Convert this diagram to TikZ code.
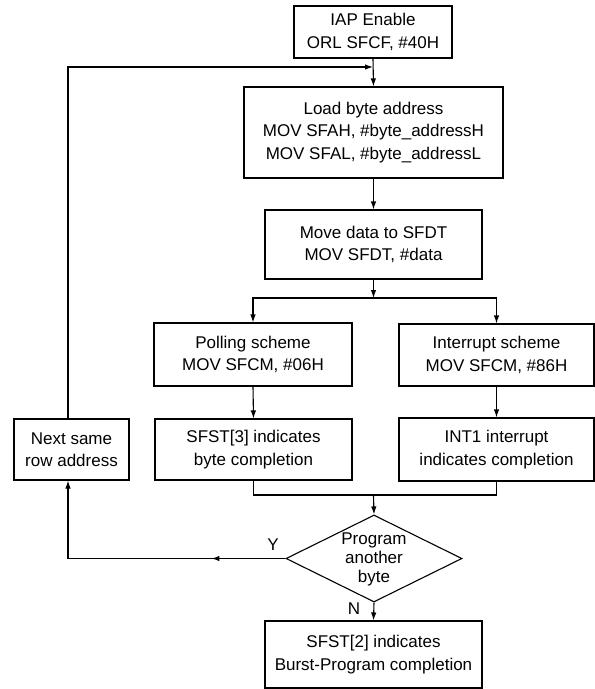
\documentclass[tikz,border=0pt]{standalone}
\usepackage{fontspec}
\setmainfont{Liberation Sans}
\usetikzlibrary{arrows.meta,shapes.geometric,decorations.markings}
\begin{document}
\begin{tikzpicture}[x=1pt,y=-1pt,
  box/.style={draw, line width=1.1pt, inner sep=0pt, align=center, font=\fontsize{17}{22.5}\selectfont},
  conn/.style={line width=1.1pt},
  tip/.style={-{Latex[length=8pt,width=5.5pt]}},
  arr/.style={conn,tip},
  lbl/.style={font=\fontsize{17}{20}\selectfont, inner sep=0pt}]
\useasboundingbox (0,0) rectangle (595,689);
\node[box, minimum width=158pt, minimum height=52pt] (iap) at (373,32) {IAP Enable\\ORL SFCF, \#40H};
\node[box, minimum width=259pt, minimum height=91pt] (load) at (373.5,132.5) {Load byte address\\MOV SFAH, \#byte\_addressH\\MOV SFAL, \#byte\_addressL};
\node[box, minimum width=217pt, minimum height=69pt] (move) at (373.5,244.5) {Move data to SFDT\\MOV SFDT, \#data};
\node[box, minimum width=198pt, minimum height=63pt] (poll) at (253,354.5) {Polling scheme\\MOV SFCM, \#06H};
\node[box, minimum width=195pt, minimum height=62pt] (intr) at (496.5,355) {Interrupt scheme\\MOV SFCM, \#86H};
\node[box, minimum width=197pt, minimum height=61pt] (sfst) at (253.5,449.5) {SFST[3] indicates\\byte completion};
\node[box, minimum width=195pt, minimum height=63pt] (int) at (496.5,449.5) {INT1 interrupt\\indicates completion};
\node[box, minimum width=115pt, minimum height=61pt] (next) at (71.5,449.5) {Next same\\row address};
\node[draw, shape=diamond, line width=1.1pt, inner sep=0pt, minimum width=176pt, minimum height=87pt] (dia) at (374,558.5) {};
\node[inner sep=0pt, align=center, font=\fontsize{17}{19}\selectfont] (dtext) at (374,559) {Program\\another\\byte};
\node[box, minimum width=217pt, minimum height=67pt] (fin) at (373.5,654.5) {SFST[2] indicates\\Burst-Program completion};
\node[lbl] (ylab) at (273,545) {Y};
\node[lbl] (nlab) at (354,609) {N};
\coordinate (top) at (68,67);
\coordinate (join) at (iap.south |- top);
\coordinate (sp) at (373.5,298);
\coordinate (mg) at (373.5,495);
\coordinate (nb) at (top |- next.south);
\coordinate (nt) at (top |- next.north);
\draw[arr] (iap.south) -- (load.north);
\draw[arr] (nt) -- (top) -- (join);
\draw[arr] (load.south) -- (move.north);
\draw[arr] (move.south) -- (sp);
\draw[arr] (sp) -| (poll.north);
\draw[arr] (sp) -| (intr.north);
\draw[arr] (poll.south) -- (sfst.north);
\draw[arr] (intr.south) -- (int.north);
\draw[conn] (sfst.south) |- (mg) -| (int.south);
\draw[arr] (mg) -- (dia.north);
\draw[arr, decoration={markings, mark=at position 74pt with {\arrow{Latex[length=8pt,width=5.5pt]}}}, postaction={decorate}] (dia.west) -| (nb);
\draw[arr] (dia.south) -- (fin.north);
\end{tikzpicture}
\end{document}
